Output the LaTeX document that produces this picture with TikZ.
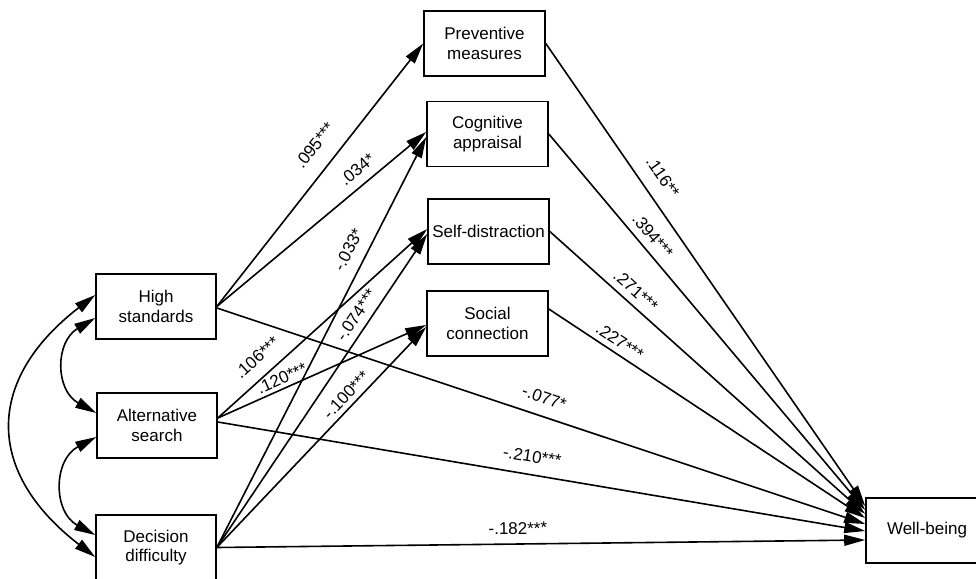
\documentclass[tikz,border=0pt]{standalone}
\usepackage{fontspec}
\setmainfont{Liberation Sans}
\usetikzlibrary{arrows.meta,calc}
\tikzset{
  box/.style={draw, line width=1.6pt, minimum width=121pt, minimum height=65pt, inner sep=0pt, align=center, font=\fontsize{17}{19.5}\selectfont},
  conn/.style={line width=1.6pt, -{Triangle[length=21pt,width=11pt]}},
  cov/.style={line width=1.6pt, {Triangle[length=21pt,width=11pt]}-{Triangle[length=21pt,width=11pt]}},
  lbl/.style={sloped, inner sep=0pt, text height=12.2pt, text depth=0pt, font=\fontsize{17}{17}\selectfont}
}
\begin{document}
\begin{tikzpicture}[x=1pt,y=1pt]
\useasboundingbox (0,0) rectangle (976,-578);
\clip (0,0) rectangle (976,-578);
% boxes
\node[box] (pm) at (484.5,-43.5) {Preventive\\measures};
\node[box] (ca) at (487.5,-134) {Cognitive\\appraisal};
\node[box] (sd) at (488.5,-231.5) {Self-distraction};
\node[box] (sc) at (487.5,-323.5) {Social\\connection};
\node[box, minimum width=120pt] (hs) at (156,-306.5) {High\\standards};
\node[box, minimum width=120pt] (as) at (157,-425.5) {Alternative\\search};
\node[box, minimum width=120pt] (dd) at (156,-547.5) {Decision\\difficulty};
\node[box, minimum width=122pt] (wb) at (927,-530.5) {Well-being};
% predictors -> mediators
\draw[conn] (hs.east) -- node[lbl, pos=0.56, above=16pt] {.095***} (pm.west);
\draw[conn] (hs.east) -- node[lbl, pos=0.717, above=8.6pt] {.034*} ($(ca.west)+(0,2)$);
\draw[conn] (dd.east) -- node[lbl, pos=0.705, above=11.6pt] {-.033*} ($(ca.west)+(0,-3)$);
\draw[conn] ($(as.east)+(0,7.5)$) -- node[lbl, pos=0.2465, above=12pt] {.106***} ($(sd.west)+(0,2.5)$);
\draw[conn] (dd.east) -- node[lbl, pos=0.717, above=7.3pt] {-.074***} ($(sd.west)+(0,-2.5)$);
\draw[conn] ($(as.east)+(0,7.5)$) -- node[lbl, pos=0.328, above=3.6pt] {.120***} ($(sc.west)+(0,-1.5)$);
\draw[conn] (dd.east) -- node[lbl, pos=0.657, above=4.7pt] {-.100***} ($(sc.west)+(0,-3.5)$);
% mediators -> well-being
\draw[conn] (pm.east) -- node[lbl, pos=0.314, above=13.8pt] {.116**} ($(wb.west)+(0,24.5)$);
\draw[conn] (ca.east) -- node[lbl, pos=0.295, above=7.3pt] {.394***} ($(wb.west)+(0,20.5)$);
\draw[conn] (sd.east) -- node[lbl, pos=0.2446, above=6.7pt] {.271***} ($(wb.west)+(0,16.5)$);
\draw[conn] ($(sc.east)+(0,14.5)$) -- node[lbl, pos=0.2035, above=5.4pt] {.227***} ($(wb.west)+(0,12.5)$);
% direct effects
\draw[conn] ($(hs.east)+(0,-1.5)$) -- node[lbl, pos=0.496, above=12pt] {-.077*} ($(wb.west)+(0,6.5)$);
\draw[conn] ($(as.east)+(0,3.5)$) -- node[lbl, pos=0.481, above=11.6pt] {-.210***} ($(wb.west)+(0,-0.5)$);
\draw[conn] (dd.east) -- node[lbl, pos=0.4646, above=9pt] {-.182***} ($(wb.west)+(0,-9.5)$);
% covariances
\draw[cov] ($(hs.west)+(0,-11.5)$) .. controls (55,-342) and (55,-390) .. ($(as.west)+(0,12.5)$);
\draw[cov] ($(as.west)+(0,-11.5)$) .. controls (53,-460) and (53,-512) .. ($(dd.west)+(0,12.5)$);
\draw[cov] ($(hs.west)+(0,11.5)$) .. controls (-15,-380) and (-15,-472) .. ($(dd.west)+(0,-9.5)$);
\end{tikzpicture}
\end{document}
